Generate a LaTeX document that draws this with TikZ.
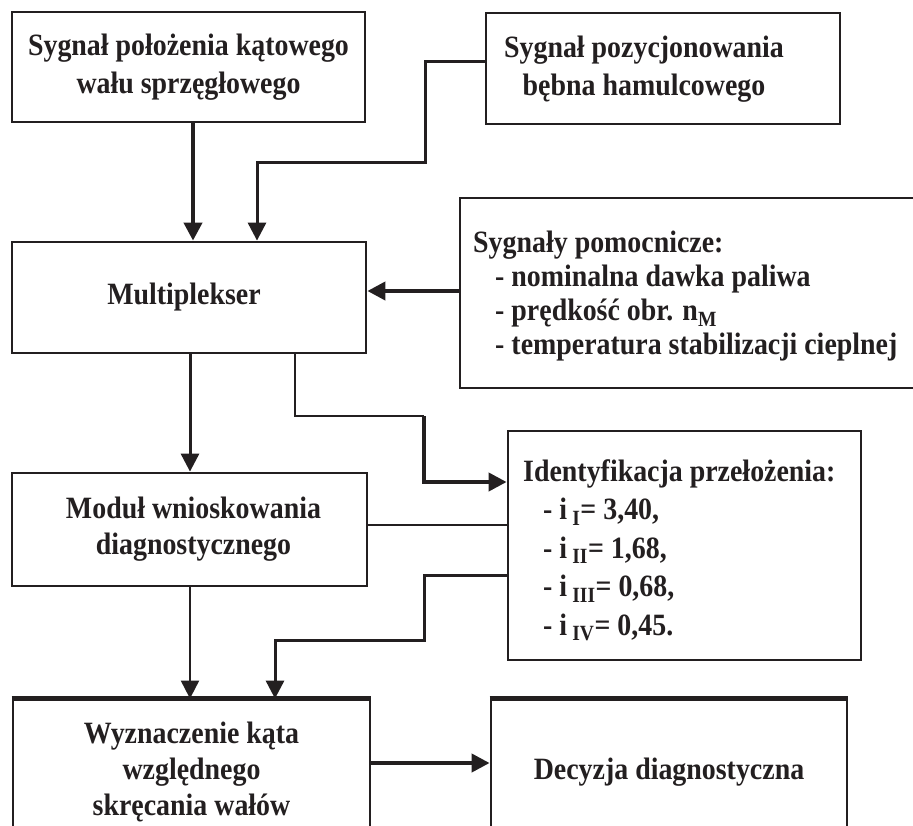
\documentclass[tikz,border=0pt]{standalone}
\usepackage{fontspec}
\setmainfont{Liberation Serif}[FakeStretch=0.90]
\usetikzlibrary{arrows.meta}
\definecolor{ink}{RGB}{35,31,32}
\begin{document}
\begin{tikzpicture}[x=1pt,y=-1pt,
  box/.style={draw=ink, line width=2.8pt, inner sep=0pt, align=center, text=ink,
              font=\fontsize{31}{#1}\selectfont\bfseries},
  box/.default=38,
  tx/.style={inner sep=0pt, text=ink, font=\fontsize{31}{#1}\selectfont\bfseries},
  tx/.default=38,
  conn/.style={draw=ink, line width=3pt, -{Triangle[width=18pt,length=18pt]}},
  heavy/.style={line width=4pt},
  light/.style={line width=2pt},
  plain/.style={draw=ink, line width=2.5pt}
]
\useasboundingbox (0,0) rectangle (913,825);
\fill[white] (0,0) rectangle (913,825);

% boxes
\node[box, minimum width=353pt, minimum height=110pt] (b1) at (188.5,67)
  {Sygnał położenia kątowego\\wału sprzęgłowego};
\node[box, minimum width=354pt, minimum height=111pt] (b2) at (663,68.5) {};
\node[tx, align=center] (t2) at (644,69) {Sygnał pozycjonowania\\bębna hamulcowego};
\node[box, minimum width=354pt, minimum height=111pt] (mux) at (189,297.5)
  {\hspace*{-10pt}Multiplekser};
\node[box, minimum width=480pt, minimum height=190pt] (aux) at (700,293) {};
\node[tx=34, align=left, anchor=north west] (taux) at (473,231)
  {Sygnały pomocnicze:\\
   \hspace*{22pt}- nominalna dawka paliwa\\
   \hspace*{22pt}- prędkość obr. n\textsubscript{M}\\
   \hspace*{22pt}- temperatura stabilizacji cieplnej};
\node[box, minimum width=353pt, minimum height=229pt] (ident) at (684.5,545.5) {};
\node[tx=38.5, align=left, anchor=north west] (tident) at (523,459)
  {Identyfikacja przełożenia:\\
   \hspace*{20pt}- i\,\textsubscript{I}= 3,40,\\
   \hspace*{20pt}- i\,\textsubscript{II}= 1,68,\\
   \hspace*{20pt}- i\,\textsubscript{III}= 0,68,\\
   \hspace*{20pt}- i\,\textsubscript{IV}= 0,45.};
\node[box=36, minimum width=355pt, minimum height=113pt] (mod) at (189.5,529.5)
  {\hspace*{8pt}Moduł wnioskowania\\\hspace*{8pt}diagnostycznego};
\node[box=36, minimum width=357pt, minimum height=144pt] (wyz) at (191.5,772)
  {Wyznaczenie kąta\\względnego\\skręcania wałów};
\node[box, minimum width=356pt, minimum height=144pt] (dec) at (669,772)
  {Decyzja diagnostyczna};

% thicker top edges of the lower boxes
\draw[ink, line width=5pt] (wyz.north west) -- (wyz.north east);
\draw[ink, line width=5pt] (dec.north west) -- (dec.north east);

% connectors
\draw[conn, heavy] ([xshift=4.5pt]b1.south) -- ([xshift=4.5pt]b1.south |- mux.north);
\draw[conn] ([yshift=7.5pt]b2.west) -| (425,162) -| ([xshift=68pt]mux.north);
\draw[conn, heavy] ([yshift=2pt]aux.west) -- ([yshift=2pt]aux.west -| mux.east);
\draw[conn] ([xshift=1pt]mux.south) -- ([xshift=1pt]mux.south |- mod.north);
\draw[plain, light] ([xshift=106pt]mux.south) |- (424,416);
\draw[conn, heavy] (424,416) |- ([yshift=63.5pt]ident.west);
\draw[plain, light] ([yshift=4.5pt]mod.east) -- ([yshift=4.5pt]mod.east -| ident.west);
\draw[conn] ([yshift=-29.5pt]ident.west) -| (424,640) -| ([xshift=83.5pt]wyz.north);
\draw[conn, light] ([xshift=0.5pt]mod.south) -- ([xshift=0.5pt]mod.south |- wyz.north);
\draw[conn, heavy] ([yshift=9pt]wyz.east) -- ([yshift=9pt]wyz.east -| dec.west);
\end{tikzpicture}
\end{document}
